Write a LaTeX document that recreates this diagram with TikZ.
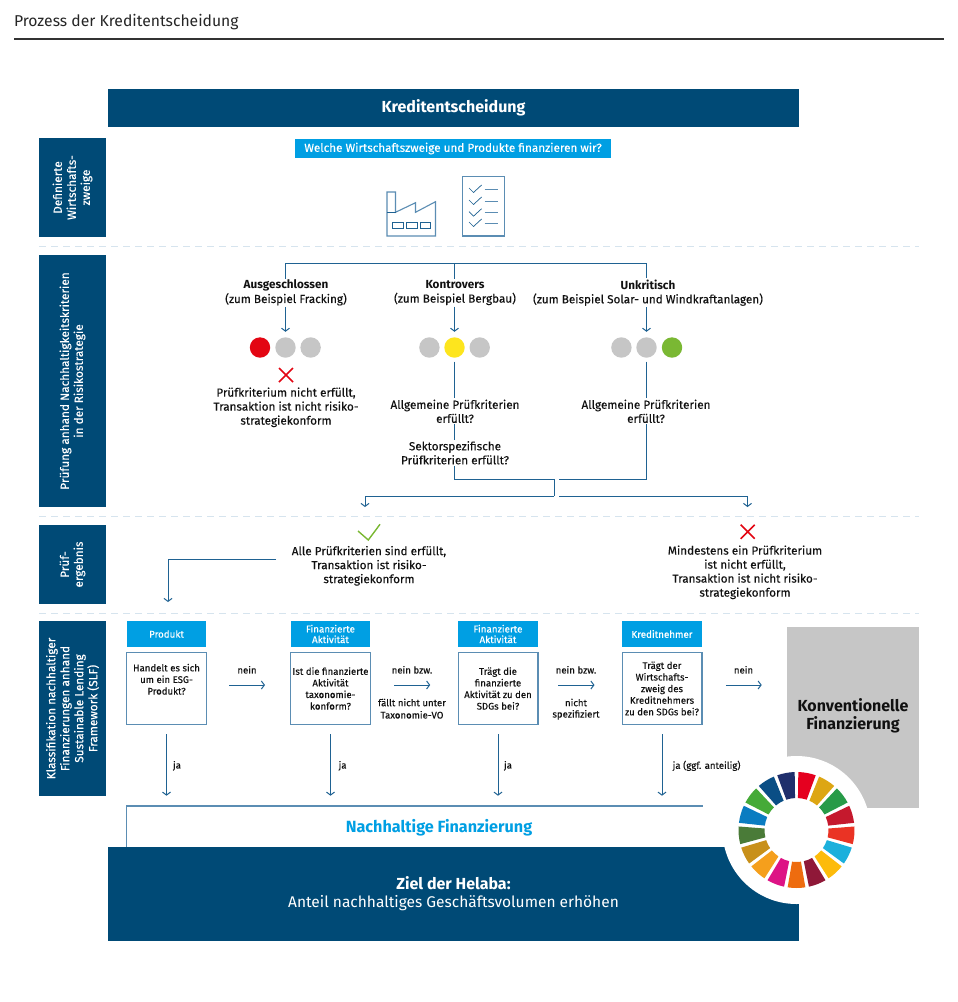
\documentclass[tikz,border=0pt]{standalone}
\usepackage{fontspec}
\setmainfont{Fira Sans}[FakeBold=0.2,BoldFeatures={FakeBold=0}]
\newfontfamily\plainfont{Fira Sans}
\usetikzlibrary{arrows.meta,calc}
\definecolor{navy}{HTML}{004A76}
\definecolor{cyanb}{HTML}{009FE3}
\definecolor{linec}{HTML}{1F6292}
\definecolor{boxc}{HTML}{5B8DB3}
\definecolor{greyb}{HTML}{C6C6C6}
\definecolor{dashc}{HTML}{D6E4EE}
\definecolor{txt}{HTML}{111111}
\definecolor{lampred}{HTML}{E30613}
\definecolor{lampyel}{HTML}{FDE51E}
\definecolor{lampgrn}{HTML}{7AB833}
\definecolor{crossc}{HTML}{E30613}
\tikzset{
  every node/.style={inner sep=1.5pt,outer sep=0pt,align=center,text=txt},
  lane/.style={fill=navy,text=white,minimum height=67pt,rotate=90,font=\fontsize{11.8}{14}\selectfont},
  band/.style={fill=navy,text=white,font=\fontsize{16}{18}\selectfont},
  head/.style={fill=cyanb,text=white,minimum width=79.6pt,minimum height=25.7pt,font=\fontsize{9.8}{10.6}\selectfont},
  qbox/.style={draw=boxc,line width=1.4pt,fill=white,minimum width=79.6pt,minimum height=71.6pt,inner sep=0pt,font=\fontsize{9.6}{11.6}\selectfont},
  lbl/.style={yshift=-0.8pt,font=\fontsize{11.7}{14}\selectfont},
  small/.style={yshift=-0.8pt,font=\fontsize{9.6}{12}\selectfont},
  lamp/.style={circle,minimum size=20.4pt,inner sep=0pt,fill=greyb},
  conn/.style={draw=linec,line width=1pt},
  arr/.style={conn,-{Straight Barb[length=3pt,width=8pt,line width=1pt]}},
  sep/.style={draw=dashc,line width=1pt,dash pattern=on 7pt off 5pt}
}
\begin{document}
\begin{tikzpicture}[x=1pt,y=-1pt]
\useasboundingbox (0,0) rectangle (958,1002);
\fill[white] (0,0) rectangle (958,1002);
% title
\node[anchor=base west,inner sep=0pt,font=\plainfont\fontsize{15.7}{18}\selectfont,text=black!85] (title) at (14,26) {Prozess der Kreditentscheidung};
\coordinate (rl) at (14,39); \coordinate (rr) at (944,39);
\draw[draw=black!80,line width=1.7pt] (rl) -- (rr);
% dashed separators
\foreach \yy/\nm in {246/a,516/b,613/c}{
  \coordinate (s\nm l) at (39,\yy); \coordinate (s\nm r) at (919,\yy);
  \draw[sep] (s\nm l) -- (s\nm r);
}
% bands
\node[band,minimum width=691pt,minimum height=38pt] (kred) at (453.5,108) {\textbf{Kreditentscheidung}};
% lanes
\node[lane,minimum width=99pt] (l1) at (72.5,187.5) {Definierte\\Wirtschafts-\\zweige};
\node[lane,minimum width=252pt] (l2) at (72.5,381) {Prüfung anhand Nachhaltigkeitskriterien\\in der Risikostrategie};
\node[lane,minimum width=79pt] (l3) at (72.5,564.5) {Prüf-\\ergebnis};
\node[lane,minimum width=175pt] (l4) at (72.5,708.5) {Klassifikation nachhaltiger\\Finanzierungen anhand\\Sustainable Lending\\Framework (SLF)};
% question
\node[fill=cyanb,text=white,minimum width=316pt,minimum height=19pt,font=\fontsize{11.7}{13}\selectfont] (wq) at (453,148.5) {\raisebox{-0.8pt}{Welche Wirtschaftszweige und Produkte finanzieren wir?}};
% factory icon
\draw[boxc,line width=1.1pt,line join=miter] (387,212.3) -- (387,192) -- (395.5,192) -- (395.5,212.3) -- (415.5,202.7) -- (415.5,212.3) -- (435.5,201.7) -- (435.5,236) -- (387,236) -- cycle;
\draw[linec,line width=0.9pt] (387,212.3) -- (395.5,212.3);
\foreach \xa/\xb in {392.6/403,406.5/417,420.4/430.6}
  \draw[linec,line width=0.8pt] (\xa,222) rectangle (\xb,228.5);
% checklist icon
\draw[boxc,line width=1.1pt,fill=white] (462.4,176.7) rectangle (504.5,236);
\foreach \yy in {189,201,212.7,223}{
  \draw[linec,line width=0.7pt] (469,\yy-1) -- (473.5,\yy+3.5) -- (481.6,\yy-4);
  \draw[boxc,line width=1pt] (484.5,\yy) -- (497.5,\yy);
}
% categories
\node[lbl] (ausg) at (286,292) {\textbf{Ausgeschlossen}\\(zum Beispiel Fracking)};
\node[lbl] (kontr) at (455,292) {\textbf{Kontrovers}\\(zum Beispiel Bergbau)};
\node[lbl] (unkr) at (648,292) {\textbf{Unkritisch}\\(zum Beispiel Solar- und Windkraftanlagen)};
% lamps
\node[lamp,fill=lampred] (la1) at (260,347.5) {};
\node[lamp] (la2) at (285.5,347.5) {};
\node[lamp] (la3) at (310.6,347.5) {};
\node[lamp] (lk1) at (429.4,347.5) {};
\node[lamp,fill=lampyel] (lk2) at (454.5,347.5) {};
\node[lamp] (lk3) at (479.7,347.5) {};
\node[lamp] (lu1) at (621.4,347.5) {};
\node[lamp] (lu2) at (646.5,347.5) {};
\node[lamp,fill=lampgrn] (lu3) at (672,347.5) {};
% connectors of the categories
\coordinate (top) at (455,263.5);
\draw[conn] (la2|-ausg.north) -- (la2|-top) -- (lu2|-top) -- (lu2|-unkr.north);
\draw[conn] (lk2|-top) -- (lk2|-kontr.north);
\draw[arr,shorten >=5.5pt] (la2|-ausg.south) -- (la2.north);
\draw[arr,shorten >=5.5pt] (lk2|-kontr.south) -- (lk2.north);
\draw[arr,shorten >=5.5pt] (lu2|-unkr.south) -- (lu2.north);
% left result
\coordinate (xa) at (286,375);
\draw[crossc,line width=1.6pt] ($(xa)+(-7,-7)$) -- ($(xa)+(7,7)$) ($(xa)+(-7,7)$) -- ($(xa)+(7,-7)$);
\node[lbl] (ar) at (286,406.5) {Prüfkriterium nicht erfüllt,\\Transaktion ist nicht risiko-\\strategiekonform};
% controversial
\node[lbl] (qk1) at (455,410.5) {Allgemeine Prüfkriterien\\erfüllt?};
\node[lbl] (qk2) at (455,452) {Sektorspezifische\\Prüfkriterien erfüllt?};
\node[lbl] (qu1) at (646,410.5) {Allgemeine Prüfkriterien\\erfüllt?};
\draw[conn,shorten <=4pt] (lk2.south) -- (lk2|-qk1.north);
\draw[conn] (lk2|-qk1.south) -- (lk2|-qk2.north);
\draw[conn,shorten <=4pt] (lu2.south) -- (lu2|-qu1.north);
\coordinate (j1) at (554,479); \coordinate (j2) at (554,496);
\coordinate (jr1) at (559,479); \coordinate (jr2) at (559,496);
\coordinate (tl) at (365,507); \coordinate (tr) at (747.5,507);
\draw[conn] (lk2|-qk2.south) |- (j1) -- (j2);
\draw[conn] (lu2|-qu1.south) |- (jr1);
\draw[arr] (j2) -| (tl);
\draw[arr] (jr2) -| (tr);
% results
\node[lbl] (allok) at (369,565) {Alle Prüfkriterien sind erfüllt,\\Transaktion ist risiko-\\strategiekonform};
\node[lbl] (notok) at (745,571.5) {Mindestens ein Prüfkriterium\\ist nicht erfüllt,\\Transaktion ist nicht risiko-\\strategiekonform};
\draw[lampgrn,line width=1.4pt] (358,531) -- (368.3,540) -- (380,524.3);
\coordinate (xb) at (747.7,531.7);
\draw[crossc,line width=1.6pt] ($(xb)+(-7,-7)$) -- ($(xb)+(7,7)$) ($(xb)+(-7,7)$) -- ($(xb)+(7,-7)$);
\coordinate (okout) at (276,559.7); \coordinate (prodin) at (168,602);
\draw[arr] (okout) -| (prodin);
% heads
\node[head] (h1) at (166.5,634) {Produkt};
\node[head] (h2) at (330.5,634) {Finanzierte\\Aktivität};
\node[head] (h3) at (498,634) {Finanzierte\\Aktivität};
\node[head] (h4) at (662,634) {Kreditnehmer};
% question boxes
\node[qbox] (q1) at (166.5,688.5) {Handelt es sich\\um ein ESG-\\Produkt?\\[7pt]};
\node[qbox] (q2) at (330.5,688.5) {Ist die finanzierte\\Aktivität\\taxonomie-\\konform?};
\node[qbox] (q3) at (498,688.5) {Trägt die\\finanzierte\\Aktivität zu den\\SDGs bei?};
\node[qbox] (q4) at (662,688.5) {Trägt der\\Wirtschafts-\\zweig des\\Kreditnehmers\\zu den SDGs bei?};
% grey block
\node[fill=greyb,minimum width=132pt,minimum height=181pt] (grey) at (853,717.5) {};
\node[font=\fontsize{16}{18.5}\selectfont] (kf) at (853,716) {\textbf{Konventionelle}\\\textbf{Finanzierung}};
% bottom
\node[band,minimum width=691pt,minimum height=94pt] (ziel) at (453.5,894) {\textbf{Ziel der Helaba:}\\{\plainfont\fontsize{15.5}{18}\selectfont Anteil nachhaltiges Geschäftsvolumen erhöhen}};
\node[minimum width=576.3pt,minimum height=41pt,inner sep=0pt] (nf) at (414.85,826.5) {};
\node[text=cyanb,font=\fontsize{16.2}{18}\selectfont] (nft) at (439,827.7) {\textbf{Nachhaltige Finanzierung}};
\draw[draw=boxc,line width=1.4pt] (nf.south west) |- (nf.north east);
% horizontal arrows
\draw[arr,shorten <=23pt,shorten >=25.7pt] ([yshift=3.5pt]q1.east) -- ([yshift=3.5pt]q2.west);
\draw[arr,shorten <=23.7pt,shorten >=28pt] ([yshift=3.5pt]q2.east) -- ([yshift=3.5pt]q3.west);
\draw[arr,shorten <=20.3pt,shorten >=27.7pt] ([yshift=3.5pt]q3.east) -- ([yshift=3.5pt]q4.west);
\coordinate (gw) at (787,685);
\draw[arr,shorten <=24pt,shorten >=25.3pt] ([yshift=3.5pt]q4.east) -- (gw);
\foreach \n/\t/\x/\y in {n1/nein/247/669,n2a/nein bzw./412/669,n2b/fällt nicht unter/412/701.7,n2c/Taxonomie-VO/412/714,n3a/nein bzw./576/669,n3b/nicht/576/701.7,n3c/spezifiziert/576/714,n4/nein/743.5/669,y1/ja/177/765,y2/ja/342.6/765,y3/ja/508/765}
  \node[small] (\n) at (\x,\y) {\t};
\node[small,anchor=west,inner sep=0pt] (y4) at (672.7,765) {ja (ggf. anteilig)};
% down arrows
\foreach \q in {q1,q2,q3,q4}
  \draw[arr,shorten <=10pt,shorten >=10.3pt] (\q.south) -- (\q.south|-nf.north);
% SDG wheel
\node[circle,fill=white,minimum size=148pt,inner sep=0pt] (wheel) at (796.5,830) {};
\begin{scope}[shift={(796.5,830)},y=1pt]
\foreach \i/\c in {0/E5001F,1/DDA613,2/279B48,3/C5192D,4/EA3324,5/1CB0DC,6/FDBB0B,7/8F1838,8/EE6C0F,9/DD1385,10/F59F1C,11/C8901A,12/4A7B38,13/0A7CC1,14/45AA38,15/0A4E85,16/1F2F6C}{
  \pgfmathsetmacro{\aa}{90-\i*21.1765-1.8}
  \pgfmathsetmacro{\bb}{90-(\i+1)*21.1765+1.8}
  \pgfmathsetmacro{\ci}{90-\i*21.1765-2.6}
  \pgfmathsetmacro{\di}{90-(\i+1)*21.1765+2.6}
  \definecolor{sdg}{HTML}{\c}
  \fill[sdg] (\aa:58) arc[start angle=\aa,end angle=\bb,radius=58pt] -- (\di:32) arc[start angle=\di,end angle=\ci,radius=32pt] -- cycle;
}
\end{scope}
\end{tikzpicture}
\end{document}
